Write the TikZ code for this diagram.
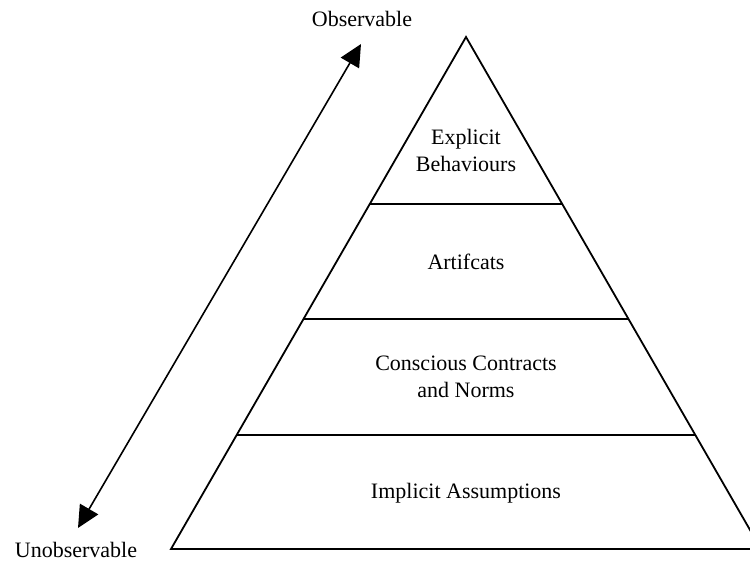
\documentclass[tikz,border=0pt]{standalone}
\usepackage{fontspec}
\setmainfont{Liberation Serif}
\usetikzlibrary{arrows.meta}
\begin{document}
\begin{tikzpicture}[x=1pt,y=-1pt,
  lbl/.style={font=\fontsize{22}{27}\selectfont,align=center,inner sep=0pt},
  edge/.style={line width=1.8pt,line join=miter},
  layer/.style={line width=1.8pt}]
\useasboundingbox (0,0) rectangle (750,561);
\clip (0,0) rectangle (750,561);
% pyramid
\coordinate (apex) at (466,37);
\coordinate (bl) at (171,549);
\coordinate (br) at (761,549);
\draw[edge] (bl) -- (apex) -- (br) -- cycle;
\coordinate (l1) at (370,204); \coordinate (r1) at (562,204);
\coordinate (l2) at (304,319); \coordinate (r2) at (628,319);
\coordinate (l3) at (237,435); \coordinate (r3) at (695,435);
\draw[layer] (l1) -- (r1);
\draw[layer] (l2) -- (r2);
\draw[layer] (l3) -- (r3);
% labels
\node[lbl] (expl) at (466,150) {Explicit\\Behaviours};
\node[lbl] (art) at (466,262) {Artifcats};
\node[lbl] (cons) at (466,377) {Conscious Contracts\\and Norms};
\node[lbl] (impl) at (466,493) {Implicit Assumptions};
\node[lbl] (obs) at (362,19) {Observable};
\node[lbl] (unobs) at (76,550) {Unobservable};
% arrow
\coordinate (atop) at (361,44);
\coordinate (abot) at (78,528);
\draw[line width=1.6pt,{Triangle[length=22pt,width=21pt]}-{Triangle[length=22pt,width=21pt]}] (abot) -- (atop);
\end{tikzpicture}
\end{document}
